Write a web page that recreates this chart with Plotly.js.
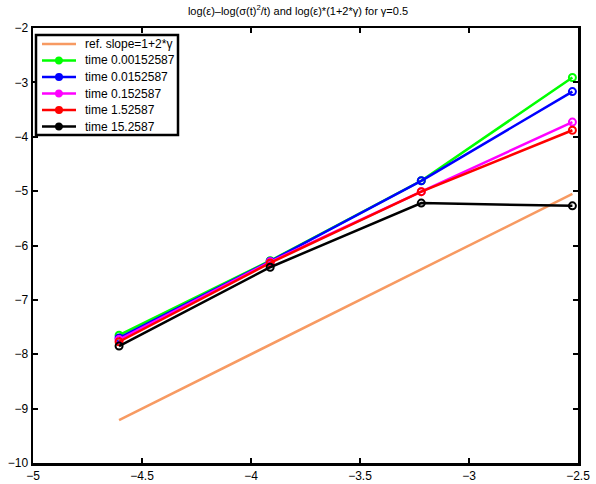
<!DOCTYPE html>
<html>
<head>
<meta charset="utf-8">
<script src="https://cdn.plot.ly/plotly-3.0.1.min.js"></script>
<style>html,body{margin:0;padding:0;background:#fff;}#chart{width:596px;height:484px;}</style>
</head>
<body>
<div id="chart"></div>
<script>
const logEps = [-4.6052, -3.9120, -3.2189, -2.5257];
const refY = [-9.2103, -7.8240, -6.4378, -5.0515];
const seriesNames = ["time 0.00152587", "time 0.0152587", "time 0.152587", "time 1.52587", "time 15.2587"];
const yT1 = [-7.65, -6.28, -4.81, -2.91];
const yT2 = [-7.70, -6.29, -4.81, -3.17];
const yT3 = [-7.73, -6.30, -5.01, -3.73];
const yT4 = [-7.77, -6.32, -5.01, -3.88];
const yT5 = [-7.85, -6.40, -5.22, -5.27];
const refName = "ref. slope=1+2*γ";
const colors = ["#00ff00", "#0000ff", "#ff00ff", "#ff0000", "#000000"];
const refColor = "#f79a62";

const W = 596, H = 484;
const M = {l: 33, r: 18, t: 28, b: 21};
const PW = W - M.l - M.r, PH = H - M.t - M.b;
const px2x = p => (p - M.l) / PW;
const px2y = p => 1 - (p - M.t) / PH;

const series = [yT1, yT2, yT3, yT4, yT5];
const traces = [{
  x: logEps, y: refY, name: refName, mode: "lines",
  line: {color: refColor, width: 2.5}, showlegend: false
}];
series.forEach((ys, i) => {
  traces.push({
    x: logEps, y: ys, name: seriesNames[i], mode: "lines+markers",
    line: {color: colors[i], width: 2.5}, showlegend: false,
    marker: {symbol: "circle-open", size: 7, color: colors[i], line: {width: 2, color: colors[i]}}
  });
});

// custom legend (box, sample lines, markers, labels)
const font = {family: "Liberation Sans, Arial, sans-serif", size: 12, color: "#000"};
const shapes = [{
  type: "rect", xref: "paper", yref: "paper", layer: "above",
  x0: px2x(36), x1: px2x(178), y0: px2y(35), y1: px2y(135),
  line: {color: "#000", width: 2.5}, fillcolor: "#fff"
}];
const annotations = [];
const legNames = [refName].concat(seriesNames);
const legColors = [refColor].concat(colors);
legNames.forEach((nm, i) => {
  const yy = 44 + i * 16.5;
  shapes.push({type: "line", xref: "paper", yref: "paper", layer: "above",
    x0: px2x(42), x1: px2x(76), y0: px2y(yy), y1: px2y(yy),
    line: {color: legColors[i], width: 2.5}});
  if (i > 0) {
    shapes.push({type: "circle", xref: "paper", yref: "paper", layer: "above",
      x0: px2x(56), x1: px2x(62), y0: px2y(yy - 3), y1: px2y(yy + 3),
      line: {color: legColors[i], width: 2}, fillcolor: legColors[i]});
  }
  annotations.push({xref: "paper", yref: "paper", x: px2x(83), y: px2y(yy),
    xanchor: "left", yanchor: "middle", showarrow: false, text: nm, font: font});
});

const axisCommon = {
  showgrid: false, zeroline: false, showline: true, mirror: "ticks",
  linecolor: "#000", linewidth: 2.5, ticks: "inside", ticklen: 5,
  tickwidth: 2, tickcolor: "#000",
  tickfont: {family: "Liberation Sans, Arial, sans-serif", size: 12, color: "#000"}
};

const layout = {
  width: W, height: H,
  margin: M,
  paper_bgcolor: "#fff", plot_bgcolor: "#fff",
  showlegend: false,
  title: {text: "log(ε)–log(σ(t)<sup>2</sup>/t) and log(ε)*(1+2*γ) for γ=0.5",
    font: {family: "Liberation Sans, Arial, sans-serif", size: 11, color: "#000"},
    x: 0.5, xanchor: "center", y: 0.985, yanchor: "top"},
  xaxis: Object.assign({}, axisCommon, {range: [-5, -2.5], dtick: 0.5, tick0: -5}),
  yaxis: Object.assign({}, axisCommon, {range: [-10, -2], dtick: 1, tick0: -10}),
  shapes: shapes,
  annotations: annotations
};

Plotly.newPlot("chart", traces, layout, {displayModeBar: false, staticPlot: true});
</script>
</body>
</html>
